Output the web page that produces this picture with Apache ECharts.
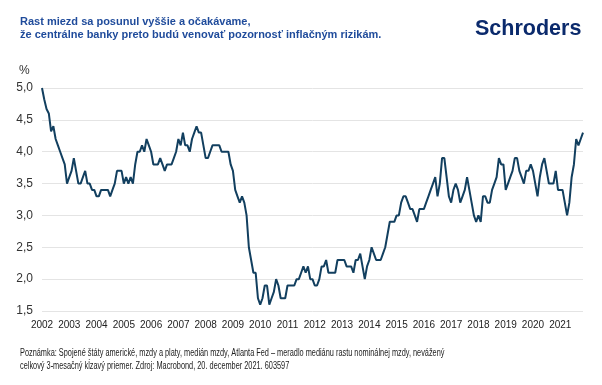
<!DOCTYPE html>
<html>
<head>
<meta charset="utf-8">
<script src="https://cdn.jsdelivr.net/npm/echarts@6/dist/echarts.min.js"></script>
<style>
html,body{margin:0;padding:0;background:#fff;}
#c{width:602px;height:385px;}
</style>
</head>
<body>
<div id="c"></div>
<script>
// Monthly data Jan 2002 – Nov 2021 (%)
const wages2002_2005 = [5.0,4.82,4.67,4.6,4.32,4.4,4.2,4.1,4.0,3.9,3.8,3.5,
  3.6,3.7,3.9,3.7,3.5,3.5,3.6,3.7,3.5,3.5,3.4,3.4,
  3.3,3.3,3.4,3.4,3.4,3.4,3.3,3.4,3.5,3.7,3.7,3.7,
  3.5,3.6,3.5,3.6,3.5,3.8,4.0,4.0,4.1,4.0,4.2,4.1];
const wages2006_2009 = [4.0,3.8,3.8,3.8,3.9,3.8,3.7,3.8,3.8,3.8,3.9,4.0,
  4.2,4.1,4.3,4.1,4.1,4.0,4.2,4.3,4.4,4.3,4.3,4.1,
  3.9,3.9,4.0,4.1,4.1,4.1,4.1,4.0,4.0,4.0,4.0,3.8,
  3.7,3.4,3.3,3.2,3.3,3.2,3.0,2.5,2.3,2.1,2.1,1.7];
const wages2010_2013 = [1.6,1.7,1.9,1.9,1.6,1.7,1.8,2.0,1.9,1.7,1.7,1.7,
  1.9,1.9,1.9,1.9,2.0,2.0,2.1,2.2,2.1,2.2,2.0,2.0,
  1.9,1.9,2.0,2.2,2.2,2.3,2.1,2.1,2.1,2.1,2.3,2.3,
  2.3,2.3,2.2,2.2,2.2,2.1,2.3,2.3,2.4,2.2,2.0,2.2];
const wages2014_2017 = [2.3,2.5,2.4,2.3,2.3,2.3,2.4,2.5,2.7,2.9,2.9,2.9,
  3.0,3.0,3.2,3.3,3.3,3.2,3.1,3.1,3.0,2.9,3.1,3.1,
  3.1,3.2,3.3,3.4,3.5,3.6,3.3,3.5,3.9,3.9,3.6,3.3,
  3.2,3.4,3.5,3.4,3.2,3.3,3.4,3.6,3.4,3.2,3.0,2.9];
const wages2018_2021 = [3.0,2.9,3.3,3.3,3.2,3.2,3.4,3.5,3.6,3.9,3.8,3.8,
  3.4,3.5,3.6,3.7,3.9,3.9,3.7,3.6,3.5,3.7,3.7,3.8,
  3.7,3.5,3.3,3.6,3.8,3.9,3.7,3.5,3.5,3.5,3.7,3.4,
  3.4,3.4,3.2,3.0,3.2,3.6,3.8,4.2,4.1,4.2,4.3];
const wages = [].concat(wages2002_2005, wages2006_2009, wages2010_2013, wages2014_2017, wages2018_2021);
const startYear = 2002;
const months = wages.map((v, i) => (startYear + Math.floor(i / 12)) + '-' + String(i % 12 + 1).padStart(2, '0'));
const yTicks = [1.5, 2.0, 2.5, 3.0, 3.5, 4.0, 4.5, 5.0];

const titleText = 'Rast miezd sa posunul vyššie a očakávame,\nže centrálne banky preto budú venovať pozornosť inflačným rizikám.';
const note1 = 'Poznámka: Spojené štáty americké, mzdy a platy, medián mzdy, Atlanta Fed – meradlo mediánu rastu nominálnej mzdy, nevážený';
const note2 = 'celkový 3-mesačný kĺzavý priemer. Zdroj: Macrobond, 20. december 2021. 603597';

const chart = echarts.init(document.getElementById('c'), null, {renderer: 'canvas'});
const FONT = '"Liberation Sans", Arial, sans-serif';
chart.setOption({
  animation: false,
  backgroundColor: '#ffffff',
  textStyle: {fontFamily: FONT},
  grid: {left: 42, right: 19, top: 88, bottom: 74, containLabel: false},
  xAxis: {
    type: 'category',
    data: months,
    boundaryGap: false,
    axisLine: {show: false},
    axisTick: {show: false},
    splitLine: {show: false},
    axisLabel: {
      interval: (i) => i % 12 === 0,
      formatter: (v) => v.slice(0, 4),
      color: '#222',
      fontSize: 10,
      margin: 9,
      fontFamily: FONT
    }
  },
  yAxis: {
    type: 'value',
    min: yTicks[0],
    max: yTicks[yTicks.length - 1],
    interval: 0.5,
    axisLine: {show: false},
    axisTick: {show: false},
    splitLine: {lineStyle: {color: '#e4e4e4', width: 1}},
    axisLabel: {
      formatter: (v) => v.toFixed(1).replace('.', ','),
      color: '#333',
      fontSize: 12,
      margin: 9,
      fontFamily: FONT
    }
  },
  series: [{
    type: 'line',
    data: wages,
    showSymbol: false,
    lineStyle: {color: '#123f5f', width: 2},
    itemStyle: {color: '#123f5f'}
  }],
  graphic: [
    {type: 'text', left: 20, top: 15, style: {text: titleText, font: 'bold 11px ' + FONT, fill: '#1f4b9b', lineHeight: 13}},
    {type: 'text', left: 475, top: 18, style: {text: 'Schroders', font: 'bold 21.5px ' + FONT, fill: '#0b2a6c'}},
    {type: 'text', left: 19, top: 65, style: {text: '%', font: '12px ' + FONT, fill: '#333'}},
    {type: 'text', left: 20, top: 348, scaleX: 0.735, style: {text: note1, font: '10px ' + FONT, fill: '#222'}},
    {type: 'text', left: 20, top: 361, scaleX: 0.735, style: {text: note2, font: '10px ' + FONT, fill: '#222'}}
  ]
});
</script>
</body>
</html>
